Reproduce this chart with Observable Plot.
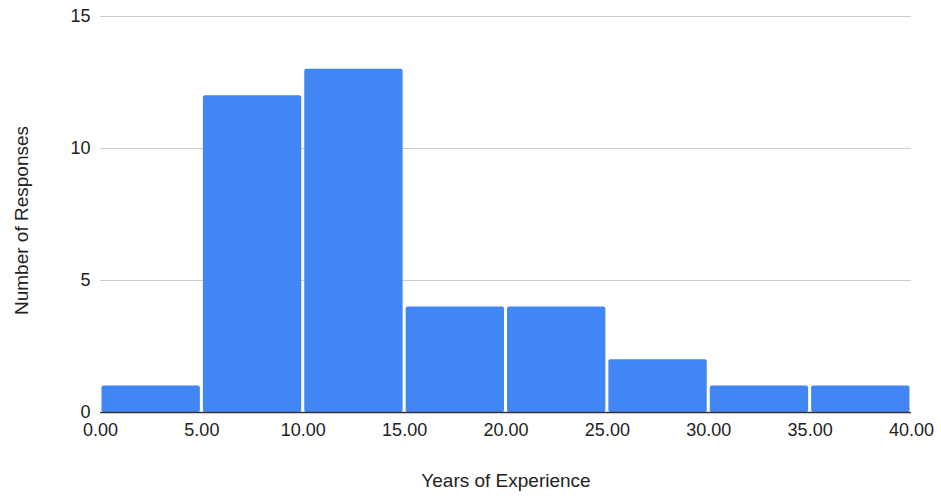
<!DOCTYPE html>
<html>
<head>
<meta charset="utf-8">
<script src="https://cdn.jsdelivr.net/npm/d3@7"></script>
<script src="https://cdn.jsdelivr.net/npm/@observablehq/plot@0.6"></script>
<style>
  html, body { margin: 0; padding: 0; background: #fff; }
</style>
</head>
<body>
<div id="chart"></div>
<script>
const binStarts = [0, 5, 10, 15, 20, 25, 30, 35];
const binWidth = 5;
const counts = [1, 12, 13, 4, 4, 2, 1, 1];
const xTicks = [0, 5, 10, 15, 20, 25, 30, 35, 40];
const yTicks = [0, 5, 10, 15];
const xTitle = "Years of Experience";
const yTitle = "Number of Responses";

const bins = binStarts.map((s, i) => ({x1: s, x2: s + binWidth, count: counts[i]}));

const chart = Plot.plot({
  width: 941,
  height: 496,
  marginLeft: 100,
  marginRight: 30,
  marginTop: 16,
  marginBottom: 84,
  style: {fontFamily: "'Liberation Sans', Arial, sans-serif", color: "#222", background: "#fff"},
  x: {domain: [0, 40]},
  y: {domain: [0, 15]},
  marks: [
    Plot.gridY(yTicks, {stroke: "#cccccc", strokeOpacity: 1, strokeWidth: 1}),
    Plot.rectY(bins, {x1: "x1", x2: "x2", y1: 0, y2: "count", fill: "#4285f4", insetLeft: 1.5, insetRight: 1.5, rx: 2}),
    Plot.ruleY([0], {stroke: "#333", strokeWidth: 1.5}),
    Plot.axisY(yTicks, {tickSize: 0, tickPadding: 10, fontSize: 18, label: null, fill: "#222"}),
    Plot.axisX(xTicks, {tickSize: 0, tickPadding: 11, fontSize: 18, label: null, tickFormat: d => d.toFixed(2), fill: "#222"}),
    Plot.text([xTitle], {frameAnchor: "bottom", dy: 74, fontSize: 19, fill: "#222", text: d => d}),
    Plot.text([yTitle], {frameAnchor: "left", dx: -79, dy: 6, rotate: -90, textAnchor: "middle", fontSize: 19, fill: "#222", text: d => d})
  ]
});
document.getElementById("chart").appendChild(chart);
</script>
</body>
</html>
